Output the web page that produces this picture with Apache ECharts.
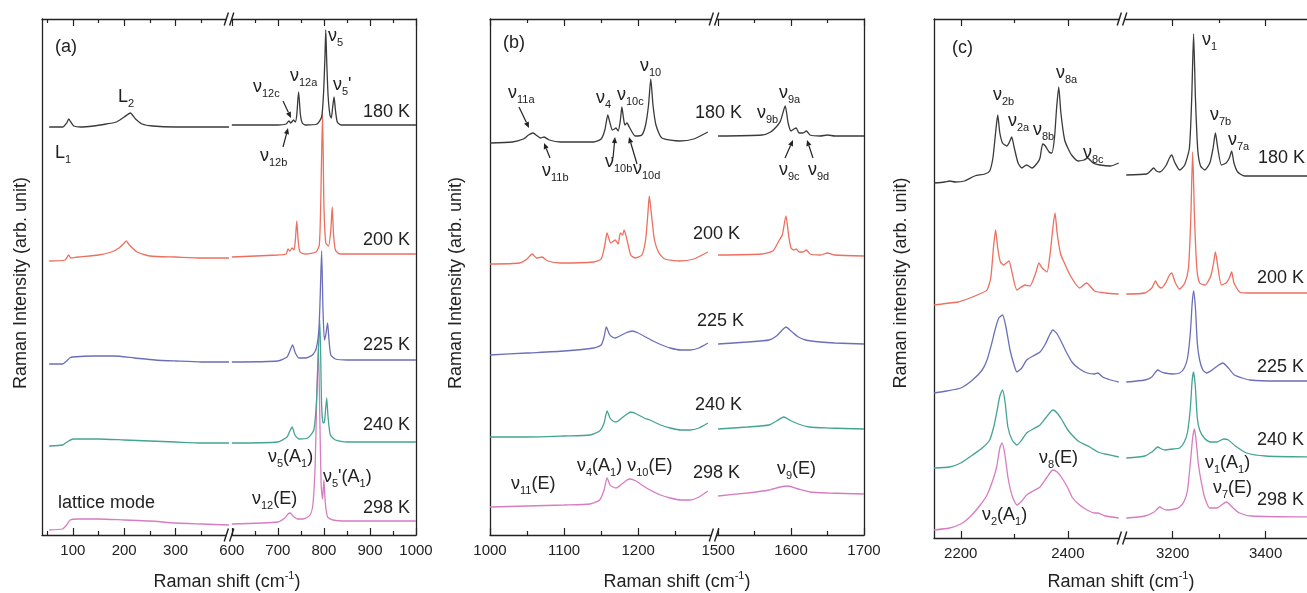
<!DOCTYPE html>
<html><head><meta charset="utf-8">
<script src="https://cdn.jsdelivr.net/npm/echarts@6/dist/echarts.min.js"></script>
<style>html,body{margin:0;padding:0;background:#fff}#c{width:1307px;height:593px}</style>
</head><body><div id="c"></div>
<script>
// ---------------- DATA ----------------
const temps = ['180 K', '200 K', '225 K', '240 K', '298 K'];
const colors = ['#3a3a3a', '#ec6f5f', '#6b6fb8', '#45a393', '#d77cc0'];

// Panel (a) low-frequency segment (cm-1, arb. units incl. offset)
const aL180 = [[54,408],[80,408],[88,412],[92,416],[96,413],[102,409],[115,408],[140,409],[165,411],[185,413],[200,418],[212,422],[222,416],[235,411],[255,409],[300,408],[350,408],[404,408]];
const aL200 = [[54,274],[85,275],[92,280],[96,277],[110,278],[150,280],[175,283],[190,287],[200,292],[204,294],[210,290],[225,283],[250,279],[300,278],[350,277],[404,277]];
const aL225 = [[54,171],[80,171],[88,174],[94,177],[100,178],[140,179],[180,179],[220,177],[260,175],[300,174],[350,173],[404,173]];
const aL240 = [[54,89],[80,90],[86,92],[92,94],[100,96],[150,96],[200,95],[250,94],[300,93],[350,92],[404,92]];
const aL298 = [[54,5],[80,6],[88,10],[95,15],[110,16],[150,16],[200,15],[250,14],[300,12],[350,11],[404,10]];
// Panel (a) 600-1000 segment
const aR180 = [[600,410],[700,410],[718,411],[724,414],[728,412],[734,415],[738,413],[741,420],[745,443],[749,420],[753,412],[760,410],[785,411],[795,418],[799,440],[802,475],[804,505],[806,475],[809,440],[813,420],[816,417],[819,428],[822,438],[825,425],[829,413],[837,410],[1000,410]];
const aR200 = [[600,278],[700,280],[718,281],[722,286],[726,284],[731,287],[735,285],[738,295],[741,314],[744,295],[748,283],[760,281],[783,283],[790,290],[793,330],[797,422],[800,330],[804,292],[810,289],[815,305],[818,328],[821,300],[825,285],[835,281],[1000,281]];
const aR225 = [[600,173],[700,174],[720,178],[726,184],[732,190],[738,182],[746,177],[760,177],[775,180],[783,186],[789,205],[792,240],[795,284],[798,225],[801,195],[804,200],[808,212],[811,195],[815,180],[825,176],[850,175],[1000,175]];
const aR240 = [[600,92],[700,93],[720,98],[726,104],[731,108],[737,100],[746,96],[765,97],[778,105],[784,135],[791,215],[795,130],[798,112],[801,113],[803,122],[806,137],[809,118],[814,100],[825,95],[850,93],[1000,93]];
const aR298 = [[600,11],[700,13],[715,17],[722,21],[727,22],[733,19],[742,16],[755,16],[770,20],[776,30],[781,70],[784,130],[788,190],[791,120],[794,50],[797,36],[800,55],[803,32],[808,18],[820,15],[850,14],[1000,14]];

// Panel (b) 1000-1300 segment
const bL180 = [[1000,392],[1030,393],[1045,396],[1052,400],[1058,402],[1064,399],[1068,397],[1073,398],[1080,395],[1095,393],[1140,393],[1150,396],[1155,405],[1159,420],[1162,412],[1165,405],[1168,406],[1170,407],[1173,404],[1176,415],[1178,428],[1180,418],[1182,410],[1185,412],[1188,408],[1196,399],[1205,400],[1210,410],[1214,430],[1217,456],[1220,430],[1224,410],[1232,397],[1256,394],[1275,396],[1294,403]];
const bL200 = [[1000,271],[1040,272],[1050,276],[1057,281],[1063,277],[1070,278],[1078,274],[1095,272],[1140,273],[1150,276],[1155,290],[1158,302],[1163,292],[1169,295],[1173,291],[1176,302],[1179,300],[1181,305],[1185,295],[1190,280],[1196,277],[1205,280],[1210,295],[1213,320],[1215,339],[1218,320],[1222,295],[1228,282],[1236,276],[1256,274],[1275,276],[1294,283]];
const bL225 = [[1000,180],[1050,182],[1100,184],[1140,187],[1150,190],[1154,198],[1157,208],[1161,201],[1165,198],[1169,197],[1175,199],[1183,202],[1192,204],[1200,202],[1210,198],[1220,194],[1232,190],[1243,187],[1258,185],[1270,185],[1282,187],[1294,192]];
const bL240 = [[1000,98],[1050,98],[1100,99],[1135,100],[1148,104],[1154,112],[1158,124],[1162,117],[1166,114],[1170,113],[1178,117],[1185,121],[1190,123],[1198,121],[1208,117],[1216,115],[1230,110],[1243,107],[1258,105],[1270,105],[1282,107],[1294,112]];
const bL298 = [[1000,28],[1050,29],[1100,30],[1135,31],[1148,35],[1154,45],[1158,57],[1162,50],[1166,48],[1170,47],[1178,51],[1185,55],[1189,56],[1197,54],[1207,49],[1216,45],[1230,40],[1243,37],[1258,35],[1270,35],[1282,38],[1294,44]];
// Panel (b) 1500-1700 segment
const bR180 = [[1500,399],[1560,400],[1572,403],[1582,410],[1586,415],[1592,429],[1596,412],[1600,404],[1604,406],[1607,407],[1611,402],[1616,402],[1621,404],[1626,400],[1640,399],[1650,400],[1660,399],[1700,399]];
const bR200 = [[1500,280],[1560,281],[1575,284],[1584,295],[1588,300],[1593,319],[1597,298],[1600,287],[1604,285],[1607,286],[1611,283],[1616,283],[1621,285],[1626,281],[1640,280],[1650,282],[1660,280],[1700,279]];
const bR225 = [[1500,191],[1540,193],[1570,195],[1580,199],[1588,205],[1593,208],[1600,204],[1610,198],[1620,195],[1640,193],[1660,192],[1700,191]];
const bR240 = [[1500,106],[1540,108],[1570,110],[1580,114],[1590,118],[1598,115],[1610,111],[1625,108],[1650,107],[1700,106]];
const bR298 = [[1500,39],[1540,42],[1570,45],[1585,48],[1596,49],[1610,46],[1626,43],[1650,42],[1700,41]];

// Panel (c) 2150-2500 segment
const cL180 = [[2150,355],[2170,356],[2179,357],[2190,356],[2207,357],[2226,362],[2245,364],[2254,367],[2260,380],[2265,405],[2269,423],[2273,405],[2278,395],[2286,392],[2291,396],[2295,401],[2300,390],[2307,375],[2314,370],[2323,373],[2333,370],[2343,375],[2348,380],[2353,394],[2358,392],[2365,386],[2370,385],[2375,400],[2379,430],[2383,451],[2387,425],[2394,398],[2400,390],[2407,383],[2419,377],[2430,378],[2437,380],[2447,375],[2460,373],[2480,372],[2495,375]];
const cL200 = [[2150,233],[2165,234],[2179,235],[2195,236],[2217,240],[2235,244],[2249,248],[2256,260],[2261,290],[2265,308],[2269,290],[2274,276],[2280,273],[2285,275],[2290,277],[2296,265],[2305,248],[2320,253],[2329,252],[2340,265],[2346,275],[2352,270],[2361,266],[2367,285],[2372,310],[2376,325],[2380,305],[2386,285],[2391,278],[2404,263],[2422,250],[2435,255],[2450,247],[2470,245],[2495,244]];
const cL225 = [[2150,145],[2174,147],[2200,150],[2222,158],[2240,168],[2249,178],[2258,195],[2264,208],[2271,220],[2278,223],[2284,212],[2292,188],[2299,174],[2305,166],[2314,170],[2323,178],[2335,182],[2348,186],[2358,194],[2365,202],[2372,208],[2380,204],[2389,195],[2398,185],[2409,175],[2422,169],[2436,165],[2450,164],[2456,165],[2465,161],[2480,158],[2495,156]];
const cL240 = [[2150,70],[2179,71],[2200,75],[2222,83],[2240,90],[2254,98],[2262,112],[2267,125],[2273,142],[2278,148],[2283,135],[2288,111],[2296,98],[2305,93],[2314,98],[2323,105],[2335,109],[2348,113],[2360,121],[2372,128],[2380,125],[2389,118],[2400,108],[2413,100],[2422,96],[2441,91],[2456,86],[2470,84],[2495,81]];
const cL298 = [[2150,8],[2179,10],[2200,14],[2217,21],[2235,32],[2249,43],[2260,58],[2267,71],[2273,90],[2277,95],[2282,85],[2288,61],[2296,42],[2305,33],[2314,37],[2323,43],[2335,47],[2348,51],[2360,60],[2372,68],[2380,66],[2389,60],[2400,50],[2409,40],[2422,33],[2436,28],[2450,25],[2456,25],[2470,22],[2495,20]];
// Panel (c) 3100-3500 segment
const cR180 = [[3100,363],[3144,364],[3152,367],[3159,370],[3165,367],[3172,366],[3185,372],[3193,380],[3198,383],[3204,376],[3215,368],[3226,373],[3236,390],[3241,440],[3245,504],[3249,440],[3254,388],[3260,372],[3269,368],[3280,375],[3287,390],[3292,405],[3297,390],[3305,373],[3315,375],[3322,380],[3327,387],[3332,375],[3340,366],[3355,362],[3420,362],[3499,362]];
const cR200 = [[3100,244],[3140,245],[3155,250],[3163,257],[3169,252],[3176,250],[3186,256],[3193,263],[3198,265],[3205,256],[3215,249],[3226,255],[3234,270],[3239,320],[3243,386],[3247,320],[3252,270],[3258,255],[3270,253],[3282,262],[3288,275],[3292,286],[3297,272],[3305,253],[3315,255],[3322,260],[3327,266],[3332,255],[3344,246],[3360,245],[3499,245]];
const cR225 = [[3100,156],[3140,158],[3155,161],[3168,168],[3176,166],[3183,165],[3200,164],[3215,165],[3225,170],[3232,180],[3238,205],[3242,235],[3245,247],[3249,230],[3253,195],[3258,178],[3265,168],[3273,165],[3285,168],[3296,172],[3308,175],[3320,170],[3333,163],[3350,160],[3366,158],[3420,157],[3499,157]];
const cR240 = [[3100,80],[3140,82],[3155,86],[3168,91],[3176,89],[3183,88],[3200,89],[3215,90],[3225,96],[3232,106],[3238,130],[3242,158],[3245,166],[3249,150],[3253,120],[3258,108],[3268,100],[3280,96],[3295,96],[3310,99],[3320,98],[3335,92],[3359,85],[3400,82],[3499,81]];
const cR298 = [[3100,20],[3140,22],[3160,26],[3172,31],[3180,29],[3187,28],[3205,29],[3215,31],[3225,37],[3232,48],[3238,75],[3243,100],[3247,109],[3251,95],[3255,75],[3260,60],[3268,42],[3280,30],[3295,30],[3305,33],[3316,36],[3328,31],[3344,25],[3370,22],[3499,21]];

// Axis ranges and ticks per segment
const xRanges = [[40,406],[596,1000],[1000,1301],[1493,1700],[2150,2503],[3093,3500]];
const majorTicks = [[100,200,300],[600,700,800,900,1000],[1000,1100,1200],[1500,1600,1700],[2200,2400],[3200,3400]];
const minorTicks = [[50,150,250,350],[650,750,850,950],[1050,1150,1250],[1550,1650],[2300],[3300]];
const tickLabels = [[100,200,300],[600,700,800,900,1000],[1000,1100,1200],[1500,1600,1700],[2200,2400],[3200,3400]];
const yMax = [516,516,516,516,519,519];

const segData = [
  [aL180,aL200,aL225,aL240,aL298],[aR180,aR200,aR225,aR240,aR298],
  [bL180,bL200,bL225,bL240,bL298],[bR180,bR200,bR225,bR240,bR298],
  [cL180,cL200,cL225,cL240,cL298],[cR180,cR200,cR225,cR240,cR298]
];

// ---------------- LAYOUT ----------------
const FONT = '"Liberation Sans", Arial, Helvetica, sans-serif';
const INK = '#222';
const gridBoxes = [
  {left:42, top:19, width:188, height:516},
  {left:230, top:19, width:186, height:516},
  {left:490, top:19, width:223, height:516},
  {left:713, top:19, width:151, height:516},
  {left:934, top:19, width:189, height:519},
  {left:1123, top:19, width:189, height:519}
];

const grid = gridBoxes.map(g => Object.assign({containLabel:false, outerBoundsMode:'none', show:false}, g));
const xAxis = [], yAxis = [], series = [];
gridBoxes.forEach((g, i) => {
  const base = {type:'value', gridIndex:i, min:xRanges[i][0], max:xRanges[i][1], splitLine:{show:false}};
  const line = {show:true, lineStyle:{color:INK, width:1.3}};
  xAxis.push(Object.assign({}, base, {position:'bottom', axisLine:line,
    axisTick:{show:true, inside:true, length:7, customValues:majorTicks[i], lineStyle:{color:INK, width:1.2}},
    axisLabel:{show:true, customValues:tickLabels[i], fontSize:15, fontFamily:FONT, color:INK, margin:8, formatter: v => String(v)}}));
  xAxis.push(Object.assign({}, base, {position:'bottom', axisLine:{show:false},
    axisTick:{show:true, inside:true, length:4, customValues:minorTicks[i], lineStyle:{color:INK, width:1.2}},
    axisLabel:{show:false}}));
  xAxis.push(Object.assign({}, base, {position:'top', axisLine:line,
    axisTick:{show:true, inside:true, length:7, customValues:majorTicks[i], lineStyle:{color:INK, width:1.2}},
    axisLabel:{show:false}}));
  xAxis.push(Object.assign({}, base, {position:'top', axisLine:{show:false},
    axisTick:{show:true, inside:true, length:4, customValues:minorTicks[i], lineStyle:{color:INK, width:1.2}},
    axisLabel:{show:false}}));
  yAxis.push({type:'value', gridIndex:i, min:0, max:yMax[i], position:(i % 2 === 0) ? 'left' : 'right',
    axisLine:{show:true, lineStyle:{color:INK, width:1.3}}, axisTick:{show:false}, axisLabel:{show:false}, splitLine:{show:false}});
  // draw 298 K first, 180 K last (on top)
  for (let t = temps.length - 1; t >= 0; t--) {
    series.push({type:'line', name:temps[t], xAxisIndex:4*i, yAxisIndex:i, data:segData[i][t],
      showSymbol:false, symbol:'none', smooth:0.2, lineStyle:{color:colors[t], width:1.3}, silent:true});
  }
});

// ---------------- TEXT / DECORATION ----------------
const rich = {
  n:{fontSize:18, lineHeight:24, fontFamily:FONT, fill:INK},
  s:{fontSize:11, lineHeight:11, fontFamily:FONT, fill:INK, verticalAlign:'bottom'},
  p:{fontSize:11, lineHeight:11, fontFamily:FONT, fill:INK, verticalAlign:'top'}
};
const NU = '\u03bd';
const annotations = [
  // panel a
  [55,47,'{n|(a)}'],[118,97,'{n|L}{s|2}'],[55,153,'{n|L}{s|1}'],
  [253,87,'{n|'+NU+'}{s|12c}'],[290,76,'{n|'+NU+'}{s|12a}'],[328,36,'{n|'+NU+'}{s|5}'],
  [333,85,'{n|'+NU+'}{s|5}{n|\'}'],[260,156,'{n|'+NU+'}{s|12b}'],
  [268,457,'{n|'+NU+'}{s|5}{n|(A}{s|1}{n|)}'],[323,477,'{n|'+NU+'}{s|5}{n|\'(A}{s|1}{n|)}'],
  [252,499,'{n|'+NU+'}{s|12}{n|(E)}'],[58,503,'{n|lattice mode}'],
  // panel b
  [503,43,'{n|(b)}'],[508,93,'{n|'+NU+'}{s|11a}'],[542,171,'{n|'+NU+'}{s|11b}'],
  [596,98,'{n|'+NU+'}{s|4}'],[617,95,'{n|'+NU+'}{s|10c}'],[640,66,'{n|'+NU+'}{s|10}'],
  [605,162,'{n|'+NU+'}{s|10b}'],[633,169,'{n|'+NU+'}{s|10d}'],
  [757,113,'{n|'+NU+'}{s|9b}'],[779,93,'{n|'+NU+'}{s|9a}'],[779,170,'{n|'+NU+'}{s|9c}'],[808,170,'{n|'+NU+'}{s|9d}'],
  [511,484,'{n|'+NU+'}{s|11}{n|(E)}'],[577,466,'{n|'+NU+'}{s|4}{n|(A}{s|1}{n|) '+NU+'}{s|10}{n|(E)}'],
  [777,469,'{n|'+NU+'}{s|9}{n|(E)}'],
  // panel c
  [952,48,'{n|(c)}'],[993,95,'{n|'+NU+'}{s|2b}'],[1008,121,'{n|'+NU+'}{s|2a}'],[1033,130,'{n|'+NU+'}{s|8b}'],
  [1056,73,'{n|'+NU+'}{s|8a}'],[1083,153,'{n|'+NU+'}{s|8c}'],[1202,40,'{n|'+NU+'}{s|1}'],
  [1210,115,'{n|'+NU+'}{s|7b}'],[1228,140,'{n|'+NU+'}{s|7a}'],
  [1039,458,'{n|'+NU+'}{s|8}{n|(E)}'],[1205,463,'{n|'+NU+'}{s|1}{n|(A}{s|1}{n|)}'],
  [1213,488,'{n|'+NU+'}{s|7}{n|(E)}'],[982,515,'{n|'+NU+'}{s|2}{n|(A}{s|1}{n|)}']
];
const tempLabels = [
  // [x, y, text, align]
  [410,112,0,'right'],[410,240,1,'right'],[410,345,2,'right'],[410,425,3,'right'],[410,508,4,'right'],
  [695,113,0,'left'],[693,234,1,'left'],[697,321,2,'left'],[695,405,3,'left'],[693,473,4,'left'],
  [1258,158,0,'left'],[1257,278,1,'left'],[1257,367,2,'left'],[1257,440,3,'left'],[1257,500,4,'left']
];
const arrows = [
  [283,101,291,118],[283,147,288,128],
  [519,107,529,128],[550,158,544,143],[613,158,615,137],[637,164,629,137],[785,158,793,140],[813,158,807,140]
];
const breaks = [[229,19],[229,535],[714,19],[714,535],[1122,19],[1122,538]];

const graphic = [];
annotations.forEach(([x,y,t]) => graphic.push({type:'text', x, y, z:100, silent:true,
  style:{text:t, rich, align:'left', verticalAlign:'middle', fontSize:18, fontFamily:FONT, fill:INK}}));
tempLabels.forEach(([x,y,k,al]) => graphic.push({type:'text', x, y, z:100, silent:true,
  style:{text:temps[k], align:al, verticalAlign:'middle', fontSize:18, fontFamily:FONT, fill:INK}}));
arrows.forEach(([x1,y1,x2,y2]) => {
  const ang = Math.atan2(y2-y1, x2-x1), L = 6, W = 2.6;
  const bx = x2 - L*Math.cos(ang), by = y2 - L*Math.sin(ang);
  const px = -Math.sin(ang)*W, py = Math.cos(ang)*W;
  graphic.push({type:'line', z:100, silent:true, shape:{x1, y1, x2:bx, y2:by}, style:{stroke:INK, lineWidth:1.2}});
  graphic.push({type:'polygon', z:100, silent:true, shape:{points:[[x2,y2],[bx+px,by+py],[bx-px,by-py]]}, style:{fill:INK}});
});
breaks.forEach(([bx,y]) => {
  graphic.push({type:'rect', z:101, silent:true, shape:{x:bx-2.3, y:y-2, width:4.6, height:4}, style:{fill:'#fff'}});
  graphic.push({type:'line', z:102, silent:true, shape:{x1:bx-4.8, y1:y+6.5, x2:bx-0.6, y2:y-6.5}, style:{stroke:INK, lineWidth:1.4}});
  graphic.push({type:'line', z:102, silent:true, shape:{x1:bx+0.6, y1:y+6.5, x2:bx+4.8, y2:y-6.5}, style:{stroke:INK, lineWidth:1.4}});
});
// axis titles
const titleRich = {
  t:{fontSize:18, lineHeight:24, fontFamily:FONT, fill:INK},
  p:{fontSize:11, lineHeight:11, fontFamily:FONT, fill:INK, verticalAlign:'top'}
};
[[227,582],[677,582],[1121,582]].forEach(([x,y]) => graphic.push({type:'text', x, y, z:100, silent:true,
  style:{text:'{t|Raman shift (cm}{p|-1}{t|)}', rich:titleRich, align:'center', verticalAlign:'middle'}}));
[[21,283,'Raman Intensity (arb. unit)'],[456,283,'Raman Intensity (arb. unit)'],[901,283,'Raman intensity (arb. unit)']]
  .forEach(([x,y,t]) => graphic.push({type:'text', x, y, rotation:Math.PI/2, z:100, silent:true,
    style:{text:t, align:'center', verticalAlign:'middle', fontSize:18, fontFamily:FONT, fill:INK}}));

const chart = echarts.init(document.getElementById('c'), null, {renderer:'canvas', width:1307, height:593});
chart.setOption({
  animation:false,
  backgroundColor:'#fff',
  grid, xAxis, yAxis, series, graphic
});
</script>
</body></html>
